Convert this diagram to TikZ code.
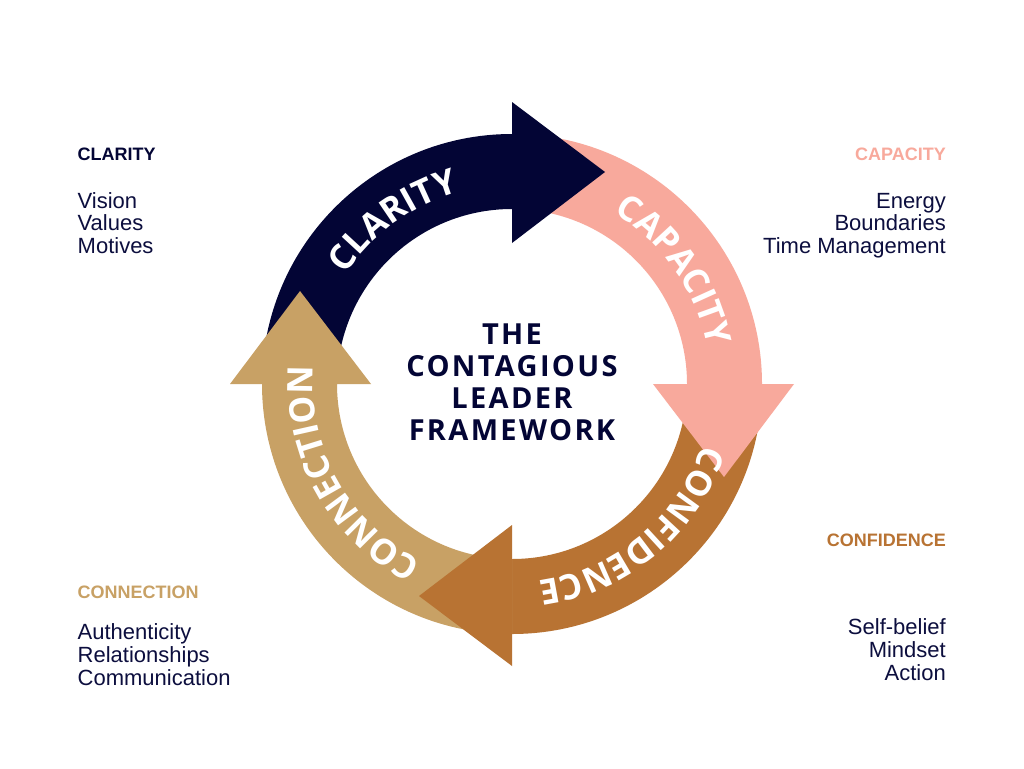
\documentclass[tikz,border=0pt]{standalone}
\usepackage{fontspec}
\setmainfont{Liberation Sans}
\newfontfamily\ringfont{Open Sans}[LetterSpace=5]
\newfontfamily\titlefont{Open Sans}[LetterSpace=8]
\usetikzlibrary{calc,positioning,decorations.text}

\definecolor{clarityc}{RGB}{3,5,53}
\definecolor{capacityc}{RGB}{248,169,156}
\definecolor{confidencec}{RGB}{184,115,51}
\definecolor{connectionc}{RGB}{200,161,101}
\definecolor{inkc}{RGB}{12,14,62}

\begin{document}
\begin{tikzpicture}[
  x=1pt, y=-1pt,
  heading/.style={font=\fontsize{18}{22}\selectfont\bfseries, inner sep=0pt},
  items/.style={font=\fontsize{22}{22.7}\selectfont, text=inkc, inner sep=0pt},
  ringlabel/.style={decorate, decoration={text along path, text align=center,
    text={|\ringfont\bfseries\fontsize{35}{35}\selectfont\color{white}|#1}}}
]
\useasboundingbox[fill=white] (0,0) rectangle (1024,768);
\coordinate (O) at (512,384);
% ring bodies
\fill[clarityc] ($(O)+(-180:250)$) arc[start angle=-180, end angle=-90, radius=250]
  -- ($(O)+(-90:175)$) arc[start angle=-90, end angle=-180, radius=175] -- cycle;
\fill[capacityc] ($(O)+(-90:250)$) arc[start angle=-90, end angle=0, radius=250]
  -- ($(O)+(0:175)$) arc[start angle=0, end angle=-90, radius=175] -- cycle;
\fill[confidencec] ($(O)+(0:250)$) arc[start angle=0, end angle=90, radius=250]
  -- ($(O)+(90:175)$) arc[start angle=90, end angle=0, radius=175] -- cycle;
\fill[connectionc] ($(O)+(90:250)$) arc[start angle=90, end angle=180, radius=250]
  -- ($(O)+(180:175)$) arc[start angle=180, end angle=90, radius=175] -- cycle;
% arrowheads
\fill[clarityc] ($(O)+(-90:141)$) -- ($(O)+(-90:282)$) -- ($(O)+(-90:212)+(0:93)$) -- cycle;
\fill[capacityc] ($(O)+(0:141)$) -- ($(O)+(0:282)$) -- ($(O)+(0:212)+(90:93)$) -- cycle;
\fill[confidencec] ($(O)+(90:141)$) -- ($(O)+(90:282)$) -- ($(O)+(90:212)+(180:93)$) -- cycle;
\fill[connectionc] ($(O)+(180:141)$) -- ($(O)+(180:282)$) -- ($(O)+(180:212)+(270:93)$) -- cycle;
% labels on the ring
\path[ringlabel={CLARITY}] ($(O)+(-196:199)$) arc[start angle=-196, end angle=-56, radius=199];
\path[ringlabel={CAPACITY}] ($(O)+(-105:199)$) arc[start angle=-105, end angle=35, radius=199];
\path[ringlabel={CONFIDENCE}] ($(O)+(-20:199)$) arc[start angle=-20, end angle=120, radius=199];
\path[ringlabel={CONNECTION}] ($(O)+(81:199)$) arc[start angle=81, end angle=221, radius=199];
\node[font=\titlefont\bfseries\fontsize{29}{32}\selectfont, text=clarityc, align=center]
  (title) at (512,382) {THE\\CONTAGIOUS\\LEADER\\FRAMEWORK};
% side texts
\node[heading, text=clarityc, anchor=base west] (clarity) at (77.5,160) {CLARITY};
\node[items, align=left, anchor=base west] (claritylist) at (77.5,253.5) {Vision\\Values\\Motives};
\node[heading, text=capacityc, anchor=base east] (capacity) at (946,160) {CAPACITY};
\node[items, align=right, anchor=base east] (capacitylist) at (946,253.5) {Energy\\Boundaries\\Time Management};
\node[heading, text=confidencec, anchor=base east] (confidence) at (946,546.7) {CONFIDENCE};
\node[items, align=right, anchor=base east] (confidencelist) at (946,680) {Self-belief\\Mindset\\Action};
\node[heading, text=connectionc, anchor=base west] (connection) at (77.5,598.3) {CONNECTION};
\node[items, align=left, anchor=base west] (connectionlist) at (77.5,685) {Authenticity\\Relationships\\Communication};
\end{tikzpicture}
\end{document}
